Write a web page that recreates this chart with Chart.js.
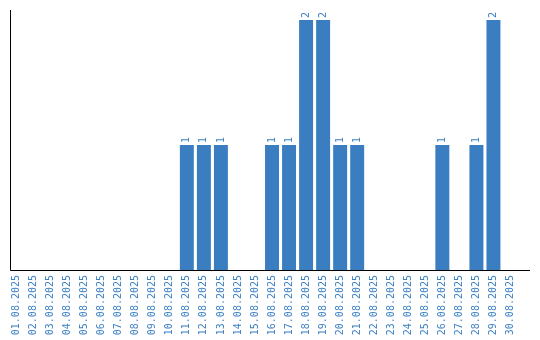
<!DOCTYPE html>
<html><head><meta charset="utf-8">
<script src="https://cdn.jsdelivr.net/npm/chart.js@4/dist/chart.umd.min.js"></script>
<style>html,body{margin:0;padding:0;background:#fff}#wrap{width:540px;height:340px}</style>
</head><body><div id="wrap"><canvas id="c" width="540" height="340"></canvas></div>
<script>
const categories = ["01.08.2025","02.08.2025","03.08.2025","04.08.2025","05.08.2025","06.08.2025","07.08.2025","08.08.2025","09.08.2025","10.08.2025","11.08.2025","12.08.2025","13.08.2025","14.08.2025","15.08.2025","16.08.2025","17.08.2025","18.08.2025","19.08.2025","20.08.2025","21.08.2025","22.08.2025","23.08.2025","24.08.2025","25.08.2025","26.08.2025","27.08.2025","28.08.2025","29.08.2025","30.08.2025"];
const counts = [0,0,0,0,0,0,0,0,0,0,1,1,1,0,0,1,1,2,2,1,1,0,0,0,0,1,0,1,2,0];
const yMax = 2.08;

const BAR = "#3a7ec1";
const TXT = "#3c80c4";

const axesPlugin = {
  id: 'axes',
  afterDatasetsDraw(chart) {
    const {ctx, chartArea} = chart;
    ctx.save();
    ctx.strokeStyle = '#000';
    ctx.lineWidth = 1;
    ctx.beginPath();
    ctx.moveTo(10.5, chartArea.top);
    ctx.lineTo(10.5, chartArea.bottom + 0.5);
    ctx.lineTo(530, chartArea.bottom + 0.5);
    ctx.stroke();
    ctx.restore();
  }
};

const labelPlugin = {
  id: 'barLabels',
  afterDatasetsDraw(chart) {
    const {ctx} = chart;
    const meta = chart.getDatasetMeta(0);
    ctx.save();
    ctx.fillStyle = TXT;
    ctx.font = '10px "DejaVu Sans Mono"';
    ctx.textAlign = 'left';
    ctx.textBaseline = 'middle';
    meta.data.forEach((bar, i) => {
      const v = counts[i];
      if (!v) return;
      ctx.save();
      ctx.translate(bar.x, bar.y - 2);
      ctx.rotate(-Math.PI / 2);
      ctx.fillText(String(v), 0, 0);
      ctx.restore();
    });
    ctx.restore();
  }
};

new Chart(document.getElementById('c'), {
  type: 'bar',
  data: {
    labels: categories,
    datasets: [{
      data: counts,
      backgroundColor: BAR,
      borderWidth: 0,
      categoryPercentage: 1,
      barPercentage: 0.82
    }]
  },
  options: {
    responsive: false,
    animation: false,
    devicePixelRatio: 1,
    layout: { padding: { left: 8, right: 21, top: 10, bottom: 0 } },
    plugins: { legend: { display: false }, tooltip: { enabled: false } },
    scales: {
      x: {
        grid: { display: false, drawTicks: false },
        border: { display: false },
        ticks: {
          color: TXT,
          font: { family: '"DejaVu Sans Mono"', size: 10 },
          minRotation: 90, maxRotation: 90,
          padding: 5,
          autoSkip: false
        },
        afterFit(s) { s.height = 70; }
      },
      y: {
        display: false,
        min: 0, max: yMax
      }
    }
  },
  plugins: [axesPlugin, labelPlugin]
});
</script>
</body></html>
